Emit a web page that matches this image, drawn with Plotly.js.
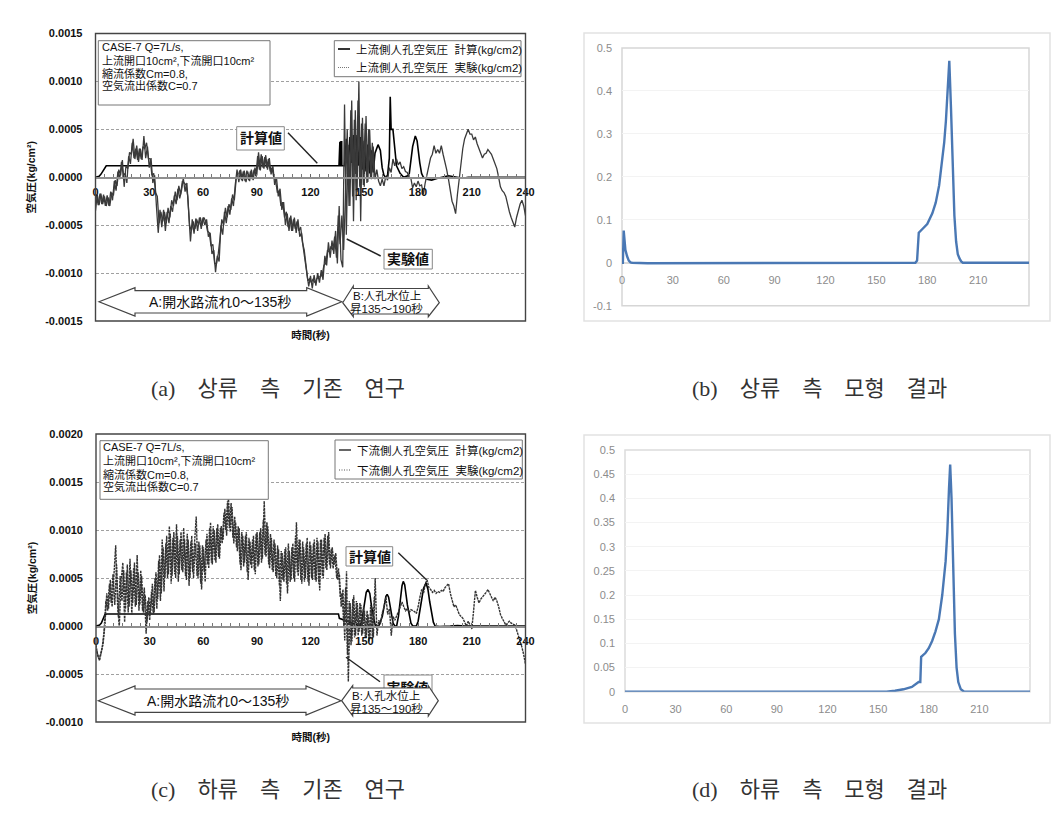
<!DOCTYPE html>
<html><head><meta charset="utf-8">
<script src="https://cdn.plot.ly/plotly-3.0.1.min.js"></script>
<style>html,body{margin:0;padding:0;background:#fff}#c{width:1064px;height:831px}</style></head>
<body><div id="c"></div>
<script>
// ---------- values (left charts in units of 0.0001 kg/cm2, one per second) ----------
const expUpstream = [
-3.5,-1.8,-2.9,-1.7,-2.8,-2.0,-3.0,-2.1,-3.0,-1.6,
-1.9,-0.3,-0.9,0.8,0.2,1.8,-1.0,1.2,0.9,2.6,
2.4,4.0,1.9,3.3,1.6,3.0,1.8,4.3,2.0,3.2,
1.0,2.0,-0.6,0.2,-3.0,-5.8,-3.4,-5.2,-3.4,-5.6,
-3.6,-4.8,-3.0,-3.6,-1.9,-2.8,-1.2,-2.2,-1.4,-0.1,
-1.5,-0.6,-3.6,-6.7,-4.4,-5.9,-4.3,-5.6,-4.2,-5.4,
-4.2,-5.0,-4.4,-6.2,-5.8,-8.0,-7.6,-9.9,-8.2,-8.8,
-5.0,-6.0,-3.6,-4.8,-3.0,-3.9,-2.2,-3.0,-0.8,0.8,
-0.5,0.8,-0.4,0.7,-0.5,0.6,-0.4,0.8,-0.3,1.0,
0.2,2.6,0.7,2.2,0.9,2.3,0.8,2.0,0.3,1.2,
-0.8,0.0,-2.0,-1.2,-3.4,-2.6,-5.0,-3.8,-5.6,-4.0,
-5.6,-4.2,-5.8,-4.4,-6.2,-5.8,-7.4,-8.6,-9.8,-11.4,
-10.3,-11.6,-10.2,-11.3,-10.0,-11.0,-9.7,-10.7,-8.2,-9.2,
-6.8,-8.4,-6.6,-8.0,-5.6,-9.0,-3.0,-8.6,-9.4,7.6,
-6.0,3.4,-3.0,8.0,-4.6,7.0,-1.5,10.0,-4.6,6.2,
-1.0,6.4,-0.5,5.0,-0.2,3.2,-0.2,0.8,-0.4,-0.9,
-0.2,-0.9,0.1,-0.3,1.0,0.5,1.9,1.2,1.9,1.3,
1.6,0.9,1.1,0.6,0.5,0.0,-0.1,-1.1,-0.6,-1.0,
-0.4,-0.9,-0.8,-1.8,-0.6,0.2,0.9,2.0,2.4,3.3,
2.5,2.9,2.5,3.3,2.4,1.7,0.8,-0.2,-1.5,-2.5,
-3.0,-3.8,-1.8,0.0,1.8,3.0,4.0,4.6,5.0,4.5,
4.5,3.9,4.2,3.5,3.0,2.4,2.0,2.4,2.5,2.9,
2.7,2.4,1.9,1.4,0.9,0.0,-1.0,-1.4,-1.6,-2.0,
-3.0,-3.6,-4.2,-4.7,-5.2,-4.2,-3.4,-2.8,-2.4,-3.0,
-4.0];
// the same recorder between whole seconds (t = 0.5, 1.5, ... 155.5), where the trace is a dense band
const expUpstreamMid = [
-1.9,-2.9,-1.7,-2.8,-1.8,-3.0,-1.9,-3.0,-1.5,-2.4,
-0.4,-1.4,0.6,-0.2,1.6,0.2,0.4,-0.6,2.2,1.4,
3.6,2.0,3.0,1.8,3.0,1.9,3.2,3.0,3.6,2.0,
1.9,0.2,0.4,-1.6,-2.0,-4.8,-3.6,-4.6,-3.6,-4.8,
-3.2,-4.2,-2.4,-3.0,-1.5,-2.4,-0.9,-1.8,-0.4,-0.6,
-0.8,-2.0,-5.0,-5.6,-4.6,-5.4,-4.4,-5.0,-4.2,-5.0,
-4.2,-4.6,-5.6,-5.8,-7.2,-7.0,-9.0,-9.0,-8.0,-6.4,
-4.4,-5.0,-3.2,-4.2,-2.8,-3.4,-1.8,-2.4,-0.2,0.0,
0.7,-0.3,0.6,-0.4,0.7,-0.3,0.6,-0.2,0.8,0.1,
2.2,0.8,2.4,1.0,2.1,1.0,1.9,0.6,1.0,0.0,
-0.3,-1.6,-1.4,-3.0,-2.6,-4.2,-3.6,-5.2,-4.2,-5.6,
-4.4,-5.4,-4.6,-5.6,-5.2,-6.8,-7.6,-9.2,-10.8,-10.6,
-11.0,-10.6,-11.0,-10.6,-10.4,-10.4,-10.2,-9.2,-9.0,-7.6,
-7.8,-7.2,-7.6,-6.2,-8.4,-4.0,-7.0,-4.0,-7.6,-2.0,
5.0,-3.0,7.0,-2.0,6.0,-2.4,8.0,-1.0,5.6,-0.8,
5.6,-0.6,5.0,0.0,3.6,0.2];
const calcUpstreamT = [0,2,3,4,5,6,135.9,136,136.4,136.5,136.9,137,137.4,137.5,138,139,140,141,142,143,144,145,146,147,148,149,150,151,152,153,154,155,156,157.7,159,160,161,162,163,164,164.5,165,166,167,168,170,172,175,176,177,178.5,179.5,181,182,183,185,187.6,191,197,201,205,208,240];
const calcUpstreamV = [0,0.1,0.3,0.6,1.0,1.2,1.2,3.7,3.7,1.2,1.2,3.7,3.7,1.2,1.2,1.2,4.0,1.0,4.2,1.5,4.4,1.0,4.4,1.2,4.2,0.8,3.8,0.6,3.4,0.4,2.8,0.5,2.5,3.4,2.8,1.0,0.2,0.0,0.2,2.0,8.4,5.0,5.0,2.8,1.2,0.4,0.0,0.2,1.5,3.2,4.3,3.8,1.5,0.4,0.0,-0.2,-0.3,-0.1,0.15,0.05,-0.1,0.0,0.0];
const expDownstream = [
-2.0,-3.1,-3.6,-2.8,-1.8,0.2,3.4,1.8,4.8,2.0,
5.0,8.4,2.4,-0.1,4.6,6.6,0.4,5.6,1.4,7.0,
1.2,6.0,2.0,7.4,1.6,5.8,1.6,4.0,-0.8,2.6,
0.6,3.6,1.2,5.0,1.8,6.8,2.6,9.0,3.6,8.6,
5.0,10.4,4.4,9.2,5.4,10.6,4.6,9.0,5.8,10.2,
5.2,9.6,4.2,8.8,5.6,9.2,11.4,5.0,8.4,3.8,
8.2,4.6,9.6,6.0,10.8,6.4,10.0,6.6,10.6,7.0,
10.4,9.0,12.2,9.4,13.4,9.8,12.4,8.6,10.8,7.8,
10.2,5.8,9.4,6.6,9.8,4.8,8.8,6.0,9.4,5.4,
9.8,6.4,10.2,7.0,13.0,7.2,10.4,6.0,9.2,5.6,
8.6,5.0,8.0,2.6,7.6,4.6,8.2,3.4,7.8,4.8,
8.6,4.6,10.8,5.2,9.0,4.4,8.2,5.0,9.2,4.2,
8.4,4.8,9.0,4.6,8.8,3.7,9.0,5.0,9.6,5.8,
9.8,6.0,8.2,6.4,7.6,4.8,5.4,2.0,3.8,-1.5,
5.7,-5.8,2.4,-1.6,3.2,-1.0,2.4,-0.6,2.2,-0.8,
1.6,-1.2,1.2,-1.4,2.0,-1.2,5.0,-1.0,0.6,0.2,
1.4,2.0,3.0,1.2,1.8,-1.0,1.0,0.6,1.0,1.5,
2.0,2.5,2.0,1.6,1.8,1.4,1.7,1.6,1.5,1.3,
2.0,3.0,3.8,3.4,4.4,4.8,4.0,3.8,3.5,3.7,
3.4,3.6,3.5,3.7,3.6,4.0,4.2,4.4,3.4,2.8,
2.0,2.2,1.6,1.2,1.0,0.8,0.4,0.0,0.5,0.1,
-0.3,1.6,3.7,3.0,2.4,2.8,3.0,3.2,3.5,3.8,
3.4,3.0,2.6,3.0,2.6,2.0,1.2,0.8,0.4,0.1,
0.3,0.5,0.3,0.2,0.1,-0.4,-1.0,-1.5,-2.2,-3.0,
-4.0];
const expDownstreamMid = [
-2.6,-3.4,-3.0,-2.2,-0.6,2.6,1.6,4.4,2.4,5.4,
2.2,6.4,1.0,5.2,2.6,5.8,1.8,6.4,2.0,5.8,
2.4,6.6,2.2,5.6,2.2,5.2,1.4,3.2,0.4,3.0,
1.2,4.4,1.4,5.6,2.8,7.4,3.4,8.2,5.0,9.4,
5.4,9.6,5.2,9.8,5.0,9.4,5.4,9.8,5.6,9.0,
4.8,9.0,5.0,9.4,5.0,8.6,5.2,8.8,4.4,8.4,
5.6,9.0,6.4,10.2,6.6,10.4,6.8,10.2,7.2,10.2,
8.6,11.8,10.0,13.0,10.2,12.8,9.2,11.4,8.2,10.4,
6.4,9.8,6.2,9.4,5.6,9.2,6.4,9.0,5.8,9.6,
6.2,9.8,6.6,11.0,7.4,10.8,6.4,9.6,5.8,9.0,
5.2,8.4,4.2,7.8,4.8,8.0,4.4,8.6,4.6,8.2,
5.0,9.4,5.6,9.0,4.8,8.8,4.6,8.6,4.6,8.8,
5.0,8.6,4.8,9.2,4.4,9.0,5.2,9.2,6.0,9.4,
6.4,8.0,6.0,7.4,5.0,6.0,3.0,3.4,0.0,4.0,
-3.0,2.6,-2.0,2.8,-1.2,2.6,-1.0,2.4,-1.0,2.0,
-1.2,1.6,-1.6,2.2,-1.4,3.0];
const calcDownstreamT = [0,2,3,4,5,6,135.5,136,140,144,147.5,148.5,150,151,152,153,154,155,156,157,158,160,161,162,162.7,163.5,165,166,167,168,169,170,171,171.7,172.5,174,175,176,177,179,180,181,182,183,184.4,185.5,186.5,187.5,188.5,189.5,192,198,202,206,240];
const calcDownstreamV = [0,0.1,0.3,0.7,1.2,1.25,1.25,0.8,0.5,0.2,0,0.5,2.5,3.5,3.8,3.4,2,0.8,0.1,0,0,1,2.3,3.1,3.3,3,1.4,0.3,0,0,1,3,4.2,4.65,4.3,2.2,1,0.3,0,0,0.5,1.5,2.8,3.9,4.5,3.8,2.5,1.2,0.4,0,-0.05,0,0.05,0,0];
const modelUpstreamT = [0,0.5,1,2,3,4,5,6,15,30,45,60,173,174,175,177,180,183,185,187,189,190,191,192,193,194,195,196,197,198,199,200,201,240];
const modelUpstreamV = [0,0,0.075,0.03,0.015,0.005,0.001,0,-0.001,-0.001,0,0,0,0.005,0.07,0.078,0.09,0.115,0.14,0.18,0.24,0.28,0.33,0.40,0.47,0.36,0.22,0.11,0.05,0.02,0.01,0.003,0,0];
const modelDownstreamT = [0,150,155,160,165,170,174,175,175.5,178,180,182,184,186,188,190,191,192,192.7,193.5,194.5,195.5,196.5,197.5,199,201,240];
const modelDownstreamV = [0,0,0,0.002,0.005,0.01,0.02,0.02,0.072,0.08,0.09,0.105,0.125,0.15,0.2,0.27,0.33,0.42,0.47,0.40,0.25,0.12,0.05,0.02,0.005,0,0];

const secondTicks = [0,30,60,90,120,150,180,210,240];
const modelSecondTicks = [0,30,60,90,120,150,180,210];
const upTickVals = [-0.0015,-0.001,-0.0005,0,0.0005,0.001,0.0015];
const upTickText = ['-0.0015','-0.0010','-0.0005','0.0000','0.0005','0.0010','0.0015'];
const downTickVals = [-0.001,-0.0005,0,0.0005,0.001,0.0015,0.002];
const downTickText = ['-0.0010','-0.0005','0.0000','0.0005','0.0010','0.0015','0.0020'];
const modelBTicks = [-0.1,0,0.1,0.2,0.3,0.4,0.5];
const modelBText = ['-0.1','0','0.1','0.2','0.3','0.4','0.5'];
const modelDTicks = [0,0.05,0.1,0.15,0.2,0.25,0.3,0.35,0.4,0.45,0.5];
const modelDText = ['0','0.05','0.1','0.15','0.2','0.25','0.3','0.35','0.4','0.45','0.5'];

const infoUp = ['CASE-7 Q=7L/s,','上流開口10cm²,下流開口10cm²','縮流係数Cm=0.8,','空気流出係数C=0.7'];
const NB='\u00a0\u00a0\u00a0\u00a0';
const captions = ['(a)'+NB+'상류'+NB+'측'+NB+'기존'+NB+'연구','(b)'+NB+'상류'+NB+'측'+NB+'모형'+NB+'결과','(c)'+NB+'하류'+NB+'측'+NB+'기존'+NB+'연구','(d)'+NB+'하류'+NB+'측'+NB+'모형'+NB+'결과'];
const legendUp = ['上流側人孔空気圧  計算(kg/cm2)','上流側人孔空気圧  実験(kg/cm2)'];
const legendDown = ['下流側人孔空気圧  計算(kg/cm2)','下流側人孔空気圧  実験(kg/cm2)'];

// ---------- page layout helpers (pixels on the 1064x831 page -> paper) ----------
const W=1064,H=831, X=p=>p/W, Y=p=>1-p/H, dom=(a,b)=>[X(a),X(b)], domY=(t,b)=>[Y(b),Y(t)];
const FONT='"Liberation Sans","Noto Sans CJK JP",sans-serif';
const SERIF='"Liberation Serif","Noto Sans CJK KR",serif';
const scale=a=>a.map(v=>+(v*1e-4).toFixed(6));
const sec=a=>a.map((_,i)=>i);
const midSec=a=>a.map((_,i)=>i+0.5);

const expLineA={color:'#3a3a3a',width:1.3};
const expLineC={color:'#333',width:1.4,dash:'2.5px,0.8px'};
const calcLine={color:'#000',width:1.6};
const modelLine={color:'#4a78b4',width:2.4};

const traces=[
 {x:calcUpstreamT,y:scale(calcUpstreamV),xaxis:'x',yaxis:'y',mode:'lines',name:legendUp[0],line:calcLine},
 {x:sec(expUpstream),y:scale(expUpstream),xaxis:'x',yaxis:'y',mode:'lines',name:legendUp[1],line:expLineA},
 {x:midSec(expUpstreamMid),y:scale(expUpstreamMid),xaxis:'x',yaxis:'y',mode:'lines',name:legendUp[1],line:expLineA},
 {x:calcDownstreamT,y:scale(calcDownstreamV),xaxis:'x3',yaxis:'y3',mode:'lines',name:legendDown[0],line:calcLine},
 {x:sec(expDownstream),y:scale(expDownstream),xaxis:'x3',yaxis:'y3',mode:'lines',name:legendDown[1],line:expLineC},
 {x:midSec(expDownstreamMid),y:scale(expDownstreamMid),xaxis:'x3',yaxis:'y3',mode:'lines',name:legendDown[1],line:expLineC},
 {x:modelUpstreamT,y:modelUpstreamV,xaxis:'x2',yaxis:'y2',mode:'lines',line:modelLine,cliponaxis:false},
 {x:modelDownstreamT,y:modelDownstreamV,xaxis:'x4',yaxis:'y4',mode:'lines',line:modelLine,cliponaxis:false},
 // this label sits partly behind the region-B arrow in the reference
 {x:[174],y:[-0.00066],xaxis:'x3',yaxis:'y3',mode:'text',text:['実験値'],textfont:{family:FONT,size:14,color:'#111',weight:'bold'}}
];

const tickF={family:FONT,size:11,color:'#111',weight:'bold'};
const modelTickF={family:FONT,size:11,color:'#8c8c8c'};
const leftY=(d,vals,text,title)=>({domain:d,range:[vals[0],vals[vals.length-1]],tickvals:vals,ticktext:text,tickfont:tickF,ticks:'',ticklabelstandoff:12,showline:false,zeroline:false,showgrid:true,griddash:'3px,2px',gridcolor:'#a0a0a0',gridwidth:1,
  title:{text:title,font:{family:FONT,size:10.5,color:'#111',weight:'bold'},standoff:7}});
const leftX=(d,anchorY,yv)=>({domain:d,range:[0,240],tickvals:secondTicks,ticktext:secondTicks.map(String),tickfont:tickF,anchor:'free',position:anchorY,showline:true,linecolor:'#8f8f8f',linewidth:1.5,showgrid:false,zeroline:false,ticks:'inside',ticklen:3,tickcolor:'#666',ticklabelstandoff:4,minor:{dtick:5,ticks:'inside',ticklen:3,tickcolor:'#777',showgrid:false},
  title:{text:'時間(秒)',font:{family:FONT,size:10.5,color:'#111',weight:'bold'},standoff:yv}});
const modelX=(d,anchor,pos,so)=>({domain:d,range:[0,240],tickvals:modelSecondTicks,ticktext:modelSecondTicks.map(String),tickfont:modelTickF,anchor:anchor,...(pos!==null?{position:pos}:{}),showline:false,showgrid:false,zeroline:false,ticks:'',ticklabelstandoff:so});
const modelY=(d,vals,text,anc)=>({domain:d,range:[vals[0],vals[vals.length-1]],tickvals:vals,ticktext:text,tickfont:modelTickF,ticks:'',ticklabelstandoff:9,showline:false,zeroline:true,zerolinecolor:'#d8d8d8',zerolinewidth:1.5,showgrid:true,gridcolor:'#f3f3f3',anchor:anc});

const rect=(x0,y0,x1,y1,o={})=>({type:'rect',xref:'paper',yref:'paper',x0:X(x0),x1:X(x1),y0:Y(y1),y1:Y(y0),line:{color:o.c||'#666',width:o.w||1},fillcolor:o.f||'rgba(0,0,0,0)',layer:o.layer||'above'});
const seg=(x0,y0,x1,y1,o={})=>({type:'line',xref:'paper',yref:'paper',x0:X(x0),x1:X(x1),y0:Y(y0),y1:Y(y1),line:{color:o.c||'#222',width:o.w||1.4,dash:o.d||'solid'}});
const poly=(pts)=>({type:'path',xref:'paper',yref:'paper',path:'M'+pts.map(p=>X(p[0]).toFixed(5)+','+Y(p[1]).toFixed(5)).join(' L')+' Z',fillcolor:'#fff',line:{color:'#444',width:1.2}});
const dblArrow=(x0,hx0,hx1,x1,cy,t,st,sb,b)=>poly([[x0,cy],[hx0,t],[hx0,st],[hx1,st],[hx1,t],[x1,cy],[hx1,b],[hx1,sb],[hx0,sb],[hx0,b]]);
const txt=(x,y,text,size,anchor='left',o={})=>({xref:'paper',yref:'paper',x:X(x),y:Y(y),text,showarrow:false,xanchor:anchor,yanchor:'middle',align:anchor,font:{family:o.family||FONT,size,color:o.color||'#111',weight:o.weight||'normal'}});

const shapes=[
 rect(584,33,1050,321,{c:'#e2e2e2',w:1.5,layer:'below'}),
 rect(584,435,1050,723,{c:'#e2e2e2',w:1.5,layer:'below'}),
 rect(622,48,1029,305.7,{c:'#d6d6d6',w:1.5,layer:'below'}),
 rect(625,450,1030,691.7,{c:'#dcdcdc',w:1.5,layer:'below'}),
 rect(95.5,33.5,525.5,321,{c:'#444',w:1.4}),
 rect(96,434,525.5,722,{c:'#444',w:1.4}),
 // panel (a) notes
 rect(98.3,40.7,270,105,{f:'#fff',c:'#777'}),
 rect(334.3,40.7,521,76.7,{f:'#fff',c:'#777'}),
 seg(338,49,350,49,{c:'#000',w:1.6}), seg(338,67.5,350,67.5,{c:'#777',w:1.2,d:'1px,1px'}),
 rect(236.7,126.7,284.3,150,{f:'#fff',c:'#888'}), seg(288,132.7,317.3,163.3),
 rect(384,249.3,432.3,269,{f:'#fff',c:'#888'}), seg(380.7,256,346.7,239),
 dblArrow(99,135,306.7,341.7,301.7,287.7,290.7,313,316),
 dblArrow(342.7,353.3,428.3,439.3,302.7,286,288.5,314,316.7),
 // panel (c) notes
 rect(100,440.7,268.3,499.3,{f:'#fff',c:'#777'}),
 rect(335,440,522.3,479,{f:'#fff',c:'#777'}),
 seg(339,450,351,450,{c:'#000',w:1.2}), seg(339,470,351,470,{c:'#555',w:1.2,d:'1px,1.5px'}),
 rect(346,546.7,392.7,566,{f:'#fff',c:'#888'}), seg(398.3,552.7,426.7,580),
 rect(384,675,432,702,{f:'#fff',c:'#888',layer:'below'}), seg(346,657.3,380,681.7),
 dblArrow(98.3,135,306,341,700.7,686,689,712.3,715),
 dblArrow(341.7,352.7,428.3,438.3,700.7,685.7,688,713.5,716)
];

const infoYA=[47.3,61,73.3,85.7], infoYC=[447.3,461,474,486];
const legF=11.5;
const capO={family:SERIF,color:'#333'};
const annotations=[
 ...infoUp.map((t,i)=>txt(99.5,infoYA[i],t,11)),
 ...infoUp.map((t,i)=>txt(101.2,infoYC[i],t,11)),
 txt(354,49,legendUp[0],legF), txt(354,67.5,legendUp[1],legF),
 txt(354.5,450,legendDown[0],legF), txt(354.5,470,legendDown[1],legF),
 txt(260.5,138.5,'計算値',14,'center',{weight:'bold'}),
 txt(408,259,'実験値',14,'center',{weight:'bold'}),
 txt(369.5,556.5,'計算値',14,'center',{weight:'bold'}),
 txt(220,302,'A:開水路流れ0～135秒',14,'center'),
 txt(387,296,'B:人孔水位上',11.5,'center'),
 txt(387,308,'昇135～190秒',11.5,'center'),
 txt(218,700.5,'A:開水路流れ0～135秒',14,'center'),
 txt(386,696,'B:人孔水位上',11.5,'center'),
 txt(386,708,'昇135～190秒',11.5,'center'),
 txt(278,389,captions[0],22,'center',capO),
 txt(819,389,captions[1],22,'center',capO),
 txt(278,789,captions[2],22,'center',capO),
 txt(819,789,captions[3],22,'center',capO)
];

const layout={
 width:W,height:H,margin:{l:0,r:0,t:0,b:0},paper_bgcolor:'#fff',plot_bgcolor:'#fff',showlegend:false,
 xaxis:leftX(dom(95.5,525.5),Y(177.3),134),
 yaxis:{...leftY(domY(33.5,321),upTickVals,upTickText,'空気圧(kg/cm²)'),anchor:'x'},
 xaxis3:leftX(dom(96,525.5),Y(626.3),87),
 yaxis3:{...leftY(domY(434,722),downTickVals,downTickText,'空気圧(kg/cm²)'),anchor:'x3'},
 xaxis2:modelX(dom(622,1029),'free',Y(262.7),9),
 yaxis2:modelY(domY(48,305.7),modelBTicks,modelBText,'x2'),
 xaxis4:modelX(dom(625,1030),'y4',null,9),
 yaxis4:modelY(domY(450,691.7),modelDTicks,modelDText,'x4'),
 shapes,annotations
};
Plotly.newPlot('c',traces,layout,{displayModeBar:false,staticPlot:true});
</script></body></html>
